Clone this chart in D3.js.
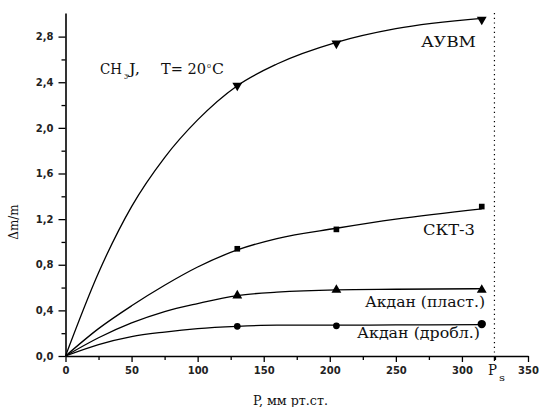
<!DOCTYPE html>
<html>
<head>
<meta charset="utf-8">
<script src="https://cdn.jsdelivr.net/npm/d3@7"></script>
<style>
  body { margin: 0; background: #fff; }
  svg { display: block; }
</style>
</head>
<body>
<svg id="chart"></svg>
<script>
// curve points (fitted lines)
const curveX   = [0, 25, 50, 75, 100, 130, 160, 205, 250, 315];
const aubmLine = [0, 0.73, 1.31, 1.74, 2.07, 2.37, 2.56, 2.75, 2.87, 2.96];
const sktLine  = [0, 0.24, 0.44, 0.62, 0.78, 0.93, 1.03, 1.12, 1.20, 1.29];
const plastLine = [0, 0.16, 0.29, 0.39, 0.46, 0.53, 0.56, 0.58, 0.585, 0.59];
const drobLine = [0, 0.10, 0.17, 0.21, 0.24, 0.26, 0.27, 0.27, 0.272, 0.275];

// measured points
const pointX   = [130, 205, 315];
const aubmPts  = [2.37, 2.74, 2.95];
const sktPts   = [0.94, 1.11, 1.31];
const plastPts = [0.53, 0.58, 0.58];
const drobPts  = [0.26, 0.265, 0.28];

const xTicks = [0, 50, 100, 150, 200, 250, 300, 350];
const yTicks = [0, 0.4, 0.8, 1.2, 1.6, 2.0, 2.4, 2.8];
const pSat = 324.6;

const W = 539, H = 407;
const margin = { top: 13, right: 11, bottom: 51, left: 65.5 };
const w = W - margin.left - margin.right;
const h = H - margin.top - margin.bottom;

const svg = d3.select("#chart").attr("width", W).attr("height", H);
const g = svg.append("g").attr("transform", `translate(${margin.left},${margin.top})`);

const x = d3.scaleLinear().domain([0, 350]).range([0, w]);
const y = d3.scaleLinear().domain([0, 3.007]).range([h, 0]);

const fmt = d => d3.format(".1f")(d).replace(".", ",");

// minor ticks
g.append("g").attr("transform", `translate(0,${h})`)
  .call(d3.axisBottom(x).tickValues(d3.range(25, 350, 50)).tickSize(4).tickFormat("").tickSizeOuter(0))
  .call(a => a.select(".domain").remove());
g.append("g")
  .call(d3.axisLeft(y).tickValues(d3.range(0.2, 3.0, 0.4)).tickSize(4).tickFormat("").tickSizeOuter(0))
  .call(a => a.select(".domain").remove());

// x axis
const xa = g.append("g").attr("class", "x axis")
  .attr("transform", `translate(0,${h})`)
  .call(d3.axisBottom(x).tickValues(xTicks).tickSize(6).tickSizeOuter(0).tickPadding(5).tickFormat(d3.format("d")));
xa.selectAll("text").style("font-family", "DejaVu Sans").style("font-size", "10px").style("font-weight", "bold").attr("fill", "#222");

// y axis
const ya = g.append("g").attr("class", "y axis")
  .call(d3.axisLeft(y).tickValues(yTicks).tickSize(7).tickSizeOuter(0).tickPadding(5).tickFormat(fmt));
ya.selectAll("text").style("font-family", "DejaVu Sans").style("font-size", "10px").style("font-weight", "bold").attr("fill", "#222");

svg.selectAll(".domain").attr("stroke-width", 1.6);
svg.selectAll(".tick line").attr("stroke-width", 1.3);

// Ps tick and dotted line
g.append("line").attr("x1", x(pSat)).attr("x2", x(pSat)).attr("y1", h).attr("y2", h + 5)
  .attr("stroke", "#000").attr("stroke-width", 1.3);
g.append("line").attr("x1", x(pSat)).attr("x2", x(pSat)).attr("y1", 0).attr("y2", h)
  .attr("stroke", "#000").attr("stroke-width", 1.2).attr("stroke-dasharray", "1.2,3.5");

// curves
const line = d3.line().curve(d3.curveMonotoneX).x(d => x(d[0])).y(d => y(d[1]));
[aubmLine, sktLine, plastLine, drobLine].forEach(vals => {
  g.append("path")
    .datum(curveX.map((cx, i) => [cx, vals[i]]))
    .attr("d", line)
    .attr("fill", "none")
    .attr("stroke", "#000")
    .attr("stroke-width", 1.3);
});

// markers
const sym = [
  { vals: aubmPts, type: d3.symbolTriangle, rot: 180, size: 42 },
  { vals: sktPts, type: d3.symbolSquare, rot: 0, size: 32 },
  { vals: plastPts, type: d3.symbolTriangle, rot: 0, size: 42 },
  { vals: drobPts, type: d3.symbolCircle, rot: 0, size: 36 }
];
sym.forEach(s => {
  g.selectAll(null).data(pointX.map((px, i) => [px, s.vals[i]])).enter()
    .append("path")
    .attr("d", (d, i) => d3.symbol().type(s.type).size(i === 2 && s.type === d3.symbolCircle ? 55 : s.size)())
    .attr("transform", d => `translate(${x(d[0])},${y(d[1])}) rotate(${s.rot})`)
    .attr("fill", "#000");
});

// text labels (widths fitted to the reference)
const serif = "DejaVu Serif";
const lab = (tx, ty, t, len, size) => svg.append("text")
  .attr("x", tx).attr("y", ty)
  .attr("textLength", len).attr("lengthAdjust", "spacingAndGlyphs")
  .style("font-family", serif).style("font-size", (size || 14) + "px").attr("fill", "#111").text(t);

lab(421, 47, "АУВМ", 55, 15);
lab(423, 235, "СКТ-3", 52, 15);
lab(365, 307, "Акдан (пласт.)", 120);
lab(357, 338, "Акдан (дробл.)", 123);

// title: CH3J,  T= 20°C
lab(100, 74, "CH", 22, 14);
lab(124, 79, "3", 4, 8);
lab(129, 74, "J,", 11, 14);
lab(161, 74, "T= 20", 45, 14);
lab(207, 68, "o", 4, 8);
lab(212, 74, "C", 12, 14);

// axis titles
lab(253, 405, "P, мм рт.ст.", 75, 12);
svg.append("text")
  .attr("transform", "translate(18,222) rotate(-90)")
  .attr("text-anchor", "middle")
  .style("font-family", serif).style("font-size", "12px").attr("fill", "#111")
  .text("Δm/m");

lab(488, 375, "P", 9, 14);
lab(499, 381, "s", 6, 9);
</script>
</body>
</html>
